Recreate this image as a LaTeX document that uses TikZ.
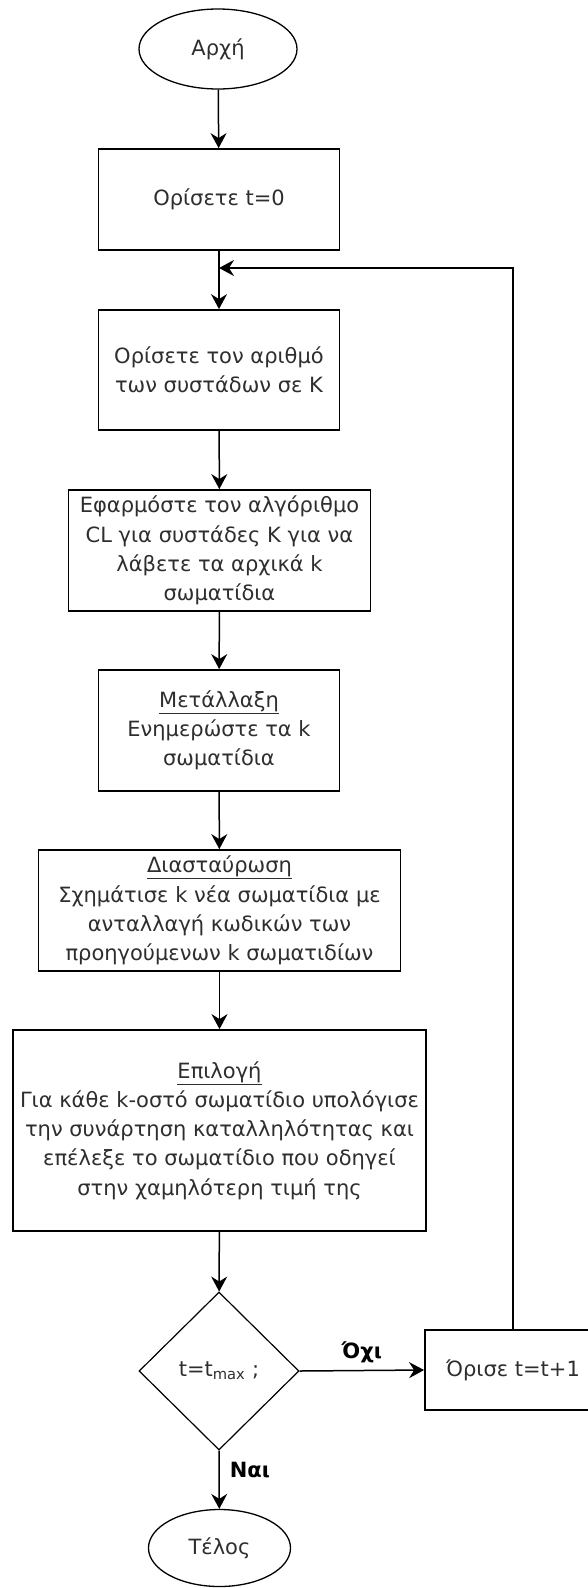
\documentclass[tikz,border=0pt]{standalone}
\usepackage{fontspec}
\setmainfont{DejaVu Sans}
\usetikzlibrary{shapes.geometric,arrows.meta}
\definecolor{txt}{HTML}{2E2E2E}
\begin{document}
\begin{tikzpicture}[x=1pt,y=-1pt,
  base/.style={draw=black, text=txt, align=center, inner sep=0pt,
    font=\fontsize{21}{29.2}\selectfont},
  box/.style={base, rectangle, line width=1.8pt},
  term/.style={base, ellipse, line width=1.3pt},
  dec/.style={base, diamond, line width=1.2pt},
  arr/.style={draw=black, line width=1.5pt,
    -{Stealth[length=15pt,width=16pt,inset=5pt]}},
  lbl/.style={text=black, inner sep=0pt, font=\bfseries\fontsize{21}{24}\selectfont}]
\useasboundingbox (0,0) rectangle (588,1588);
\clip (0,0) rectangle (588,1588);

% terminals, process steps and the test
\node[term, minimum width=158pt, minimum height=80pt] (start) at (218,49) {Αρχή};
\node[box, minimum width=241pt, minimum height=101pt] (init) at (219,199.5) {Ορίσετε t=0};
\node[box, minimum width=241pt, minimum height=120pt] (setk) at (219,370)
  {Ορίσετε τον αριθμό\\των συστάδων σε K};
\node[box, minimum width=302pt, minimum height=121pt] (cl) at (219.5,550.5)
  {Εφαρμόστε τον αλγόριθμο\\CL για συστάδες K για να\\λάβετε τα αρχικά k\\σωματίδια};
\node[box, minimum width=241pt, minimum height=121pt] (mut) at (219,730.5)
  {\underline{Μετάλλαξη}\\Ενημερώστε τα k\\σωματίδια};
\node[box, minimum width=362pt, minimum height=121pt] (cross) at (219.5,910.5)
  {\underline{Διασταύρωση}\\Σχημάτισε k νέα σωματίδια με\\ανταλλαγή κωδικών των\\προηγούμενων k σωματιδίων};
\node[box, minimum width=413pt, minimum height=201pt] (sel) at (219.5,1130.5)
  {\underline{Επιλογή}\\Για κάθε k-οστό σωματίδιο υπολόγισε\\την συνάρτηση καταλληλότητας και\\επέλεξε το σωματίδιο που οδηγεί\\στην χαμηλότερη τιμή της};
\node[dec, minimum width=160pt, minimum height=158pt] (test) at (219,1371)
  {t=t\textsubscript{max} ;};
\node[box, minimum width=176pt, minimum height=80pt] (inc) at (513,1370) {Όρισε t=t+1};
\node[term, minimum width=142pt, minimum height=77pt] (stop) at (219.5,1548) {Τέλος};
\coordinate (back) at (219,268);

% main flow
\draw[arr] (start) -- (init);
\draw[arr] (init) -- (setk);
\draw[arr] (setk) -- (cl);
\draw[arr] (cl) -- (mut);
\draw[arr] (mut) -- (cross);
\draw[arr] (cross) -- (sel);
\draw[arr] (sel) -- (test);
\draw[arr] (test.south) -- node[lbl, pos=0.33, right=10pt] (yes) {Ναι} (stop);
\draw[arr] (test.east) -- node[lbl, above=7pt, pos=0.5] (no) {Όχι} (inc.west);
% loop back to the clustering step
\draw[arr] (inc.north) |- (back);
\end{tikzpicture}
\end{document}
